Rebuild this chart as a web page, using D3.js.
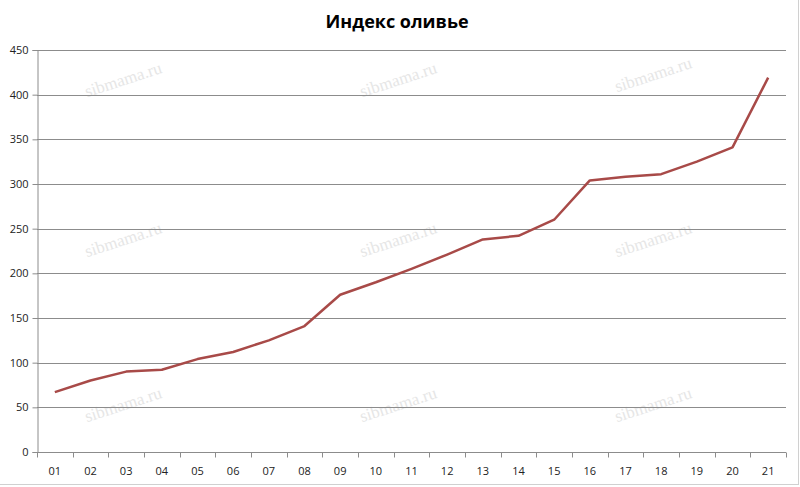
<!DOCTYPE html>
<html>
<head>
<meta charset="utf-8">
<script src="https://cdn.jsdelivr.net/npm/d3@7"></script>
<style>
  body { margin: 0; background: #fff; }
  text { font-family: "Open Sans", "DejaVu Sans", sans-serif; }
</style>
</head>
<body>
<script>
// data
var categories = ["01","02","03","04","05","06","07","08","09","10","11","12","13","14","15","16","17","18","19","20","21"];
var values = [67,80,90,92,104,112,125,141,176,190,205,221,238,242,260,304,308,311,325,341,419];
var yTicks = [0,50,100,150,200,250,300,350,400,450];
var title = "Индекс оливье";

var width = 800, height = 487;
var margin = {top: 50, right: 14, bottom: 35, left: 37};

var svg = d3.select("body").append("svg").attr("width", width).attr("height", height);

var x = d3.scaleBand().domain(categories).range([margin.left, width - margin.right]);
var y = d3.scaleLinear().domain([0, 450]).range([height - margin.bottom, margin.top]);

// outer border pieces
svg.append("line").attr("x1", 0).attr("x2", 798).attr("y1", 484.5).attr("y2", 484.5).attr("stroke", "#d0d0d0");
svg.append("line").attr("x1", 798.5).attr("x2", 798.5).attr("y1", 0).attr("y2", 485).attr("stroke", "#d0d0d0");

// watermarks
var marks = [[125,85],[400,85],[655,80],[125,245],[400,245],[655,245],[125,410],[400,410],[655,410]];
svg.selectAll(".wm").data(marks).enter().append("text")
  .attr("class", "wm")
  .attr("transform", function(d){ return "translate(" + d[0] + "," + d[1] + ") rotate(-18)"; })
  .attr("text-anchor", "middle")
  .style("font-family", "'Liberation Serif', serif")
  .style("font-size", "17px")
  .attr("fill", "#e6e6e6")
  .text("sibmama.ru");

// gridlines
svg.append("g").selectAll("line").data(yTicks.filter(function(d){ return d > 0; })).enter().append("line")
  .attr("x1", margin.left).attr("x2", width - margin.right)
  .attr("y1", function(d){ return Math.round(y(d)) + 0.5; })
  .attr("y2", function(d){ return Math.round(y(d)) + 0.5; })
  .attr("stroke", "#8c8c8c");

// y axis
var yAxis = svg.append("g")
  .attr("transform", "translate(" + (margin.left + 0.5) + ",0)")
  .call(d3.axisLeft(y).tickValues(yTicks).tickSize(5).tickPadding(4));
yAxis.select(".domain").attr("stroke", "#8c8c8c");
yAxis.selectAll(".tick line").attr("stroke", "#8c8c8c");
yAxis.selectAll("text").style("font-size", "11px").attr("fill", "#222");

// x axis with ticks at category boundaries
var xAxisY = Math.round(y(0)) + 0.5;
var xg = svg.append("g");
xg.append("line").attr("x1", margin.left).attr("x2", width - margin.right)
  .attr("y1", xAxisY).attr("y2", xAxisY).attr("stroke", "#8c8c8c");
var bounds = categories.map(function(c){ return x(c); }).concat([x(categories[categories.length - 1]) + x.bandwidth()]);
xg.selectAll(".bt").data(bounds).enter().append("line")
  .attr("x1", function(d){ return Math.round(d) + 0.5; })
  .attr("x2", function(d){ return Math.round(d) + 0.5; })
  .attr("y1", xAxisY).attr("y2", xAxisY + 5)
  .attr("stroke", "#8c8c8c");
xg.selectAll(".lbl").data(categories).enter().append("text")
  .attr("x", function(d){ return x(d) + x.bandwidth() / 2; })
  .attr("y", xAxisY + 22)
  .attr("text-anchor", "middle")
  .style("font-size", "11px")
  .attr("fill", "#222")
  .text(function(d){ return d; });

// line
var line = d3.line()
  .x(function(d, i){ return x(categories[i]) + x.bandwidth() / 2; })
  .y(function(d){ return y(d); });

svg.append("path")
  .attr("fill", "none")
  .attr("stroke", "#a84a48")
  .attr("stroke-width", 2.5)
  .attr("stroke-linejoin", "round")
  .attr("d", line(values));

// title
svg.append("text")
  .attr("x", 397).attr("y", 28)
  .attr("text-anchor", "middle")
  .style("font-size", "18px")
  .style("font-weight", "bold")
  .attr("fill", "#000")
  .text(title);
</script>
</body>
</html>
